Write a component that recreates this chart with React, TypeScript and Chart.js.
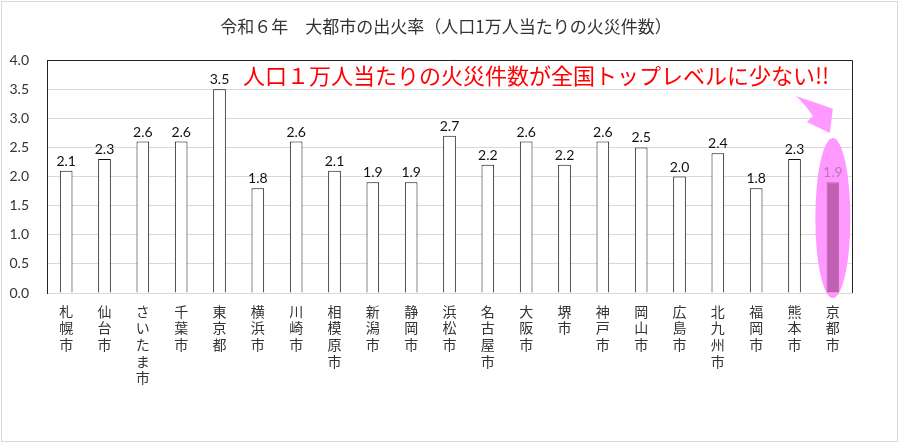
import React, { useEffect, useRef } from "react";
import { Chart, registerables } from "chart.js";

Chart.register(...registerables);

const categories: string[] = [
  "札幌市", "仙台市", "さいたま市", "千葉市", "東京都", "横浜市", "川崎市",
  "相模原市", "新潟市", "静岡市", "浜松市", "名古屋市", "大阪市", "堺市",
  "神戸市", "岡山市", "広島市", "北九州市", "福岡市", "熊本市", "京都市",
];
const values: number[] = [
  2.1, 2.3, 2.6, 2.6, 3.5, 1.8, 2.6, 2.1, 1.9, 1.9, 2.7,
  2.2, 2.6, 2.2, 2.6, 2.5, 2.0, 2.4, 1.8, 2.3, 1.9,
];
const highlightIndex = 20;
const yMin = 0;
const yMax = 4;
const yStep = 0.5;
const titleText = "令和６年　大都市の出火率（人口1万人当たりの火災件数）";
const noteText = "人口１万人当たりの火災件数が全国トップレベルに少ない!!";

const JP = "'Noto Sans CJK JP', 'Noto Sans', sans-serif";
const NUM = "Lato, 'Noto Sans', sans-serif";

const decorPlugin = {
  id: "decor",
  beforeDatasetsDraw(chart: any) {
    const { ctx, chartArea: ca, scales } = chart;
    const xs = scales.x;
    const ys = scales.y;
    ctx.save();
    // frame top & right
    ctx.strokeStyle = "#222";
    ctx.lineWidth = 1;
    ctx.beginPath();
    ctx.moveTo(ca.left, Math.round(ca.top) + 0.5);
    ctx.lineTo(Math.round(ca.right) + 0.5, Math.round(ca.top) + 0.5);
    ctx.lineTo(Math.round(ca.right) + 0.5, ca.bottom);
    ctx.stroke();

    // highlight ellipse
    const cx = xs.getPixelForValue(highlightIndex);
    const top = ys.getPixelForValue(2.66);
    const bottom = ca.bottom + 5;
    ctx.fillStyle = "#ff99ff";
    ctx.beginPath();
    ctx.ellipse(cx, (top + bottom) / 2, 17.5, (bottom - top) / 2, 0, 0, Math.PI * 2);
    ctx.fill();

    // curved arrow
    const ox = cx;
    const oy = ca.top;
    const p = (dx: number, dy: number) => [ox + dx, oy + dy];
    ctx.beginPath();
    let q = p(-37, 36);
    ctx.moveTo(q[0], q[1]);
    let c = p(-16, 43);
    q = p(-2, 48);
    ctx.quadraticCurveTo(c[0], c[1], q[0], q[1]);
    q = p(0, 49);
    ctx.lineTo(q[0], q[1]);
    q = p(-3, 73);
    ctx.lineTo(q[0], q[1]);
    q = p(-26, 62);
    ctx.lineTo(q[0], q[1]);
    q = p(-20, 56);
    ctx.lineTo(q[0], q[1]);
    c = p(-28, 44);
    q = p(-37, 36);
    ctx.quadraticCurveTo(c[0], c[1], q[0], q[1]);
    ctx.closePath();
    ctx.fill();
    ctx.restore();
  },
  afterDatasetsDraw(chart: any) {
    const { ctx, chartArea: ca } = chart;
    const meta = chart.getDatasetMeta(0);
    ctx.save();
    ctx.font = `14px ${NUM}`;
    ctx.textAlign = "center";
    ctx.textBaseline = "alphabetic";
    meta.data.forEach((bar: any, i: number) => {
      ctx.fillStyle = i === highlightIndex ? "#b878b8" : "#111";
      ctx.fillText(values[i].toFixed(1), bar.x, bar.y - 5);
    });

    // title
    ctx.fillStyle = "#333";
    ctx.font = `17px ${JP}`;
    ctx.textBaseline = "middle";
    ctx.fillText(titleText, 446, 27);

    // note
    ctx.fillStyle = "#ff0000";
    ctx.font = `22px ${JP}`;
    ctx.textAlign = "left";
    ctx.fillText(noteText, 243, ca.top + 16);

    // outer border
    ctx.strokeStyle = "#d9d9d9";
    ctx.lineWidth = 1;
    ctx.strokeRect(1.5, 1.5, 896, 440);
    ctx.restore();
  },
};

export default function App() {
  const ref = useRef<HTMLCanvasElement | null>(null);

  useEffect(() => {
    if (!ref.current) return;
    const bg = values.map((_, i) => (i === highlightIndex ? "#c060b0" : "#ffffff"));
    const bc = values.map((_, i) => (i === highlightIndex ? "#c060b0" : "#111111"));
    const chart = new Chart(ref.current, {
      type: "bar",
      data: {
        labels: categories.map((s) => Array.from(s)),
        datasets: [
          {
            data: values,
            backgroundColor: bg,
            borderColor: bc,
            borderWidth: 1,
            barPercentage: 0.33,
            categoryPercentage: 1,
          },
        ],
      },
      options: {
        animation: false,
        responsive: true,
        maintainAspectRatio: false,
        devicePixelRatio: 1,
        layout: { padding: { top: 60, right: 48, bottom: 0, left: 0 } },
        plugins: {
          legend: { display: false },
          title: { display: false },
          tooltip: { enabled: false },
        },
        scales: {
          x: {
            afterFit: (s: any) => {
              s.height = 150;
            },
            grid: { display: false, drawTicks: false },
            border: { color: "#d9d9d9" },
            ticks: {
              autoSkip: false,
              maxRotation: 0,
              minRotation: 0,
              padding: 10,
              color: "#333",
              font: { family: JP, size: 14, lineHeight: 1.19 },
            },
          },
          y: {
            min: yMin,
            max: yMax,
            afterFit: (s: any) => {
              s.width = 47;
            },
            grid: { color: "#d9d9d9", drawTicks: false },
            border: { color: "#222" },
            ticks: {
              stepSize: yStep,
              padding: 18,
              color: "#333",
              font: { family: NUM, size: 14 },
              callback: (v: any) => Number(v).toFixed(1),
            },
          },
        },
      },
      plugins: [decorPlugin],
    });
    return () => chart.destroy();
  }, []);

  return (
    <div style={{ position: "absolute", left: 0, top: 0, width: 900, height: 443, background: "#fff" }}>
      <canvas ref={ref} />
    </div>
  );
}
